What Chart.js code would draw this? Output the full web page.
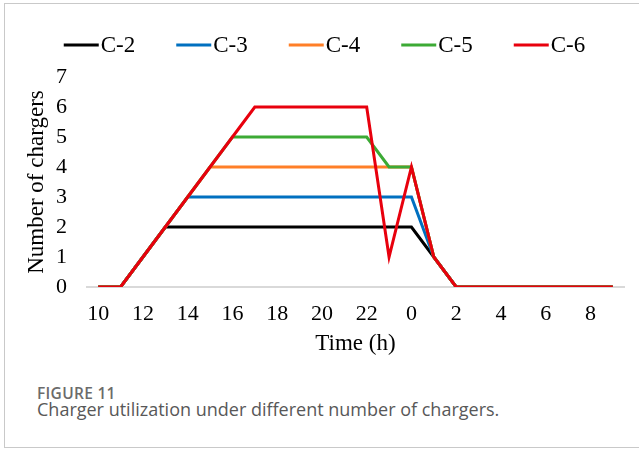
<!DOCTYPE html>
<html>
<head>
<meta charset="utf-8">
<script src="https://cdn.jsdelivr.net/npm/chart.js@4/dist/chart.umd.min.js"></script>
<style>
  html, body { margin: 0; padding: 0; background: #fff; width: 639px; height: 450px; overflow: hidden; }
  #card { position: absolute; left: 4px; top: 3px; width: 660px; height: 445px; border: 1px solid #c9c9c9; box-sizing: border-box; }
  #wrap { position: absolute; left: 0; top: 0; width: 639px; height: 362px; }
  #fig { position: absolute; left: 37px; top: 382px; font-family: "Open Sans", sans-serif; font-weight: 600; font-size: 15.5px; color: #6b6b6b; letter-spacing: 0.3px; }
  #cap { position: absolute; left: 37px; top: 397px; font-family: "Open Sans", sans-serif; font-size: 18px; color: #585858; }
</style>
</head>
<body>
<div id="card"></div>
<div id="wrap"><canvas id="c" width="639" height="362"></canvas></div>
<div id="fig">FIGURE 11</div>
<div id="cap">Charger utilization under different number of chargers.</div>
<script>
const hours = ['10','11','12','13','14','15','16','17','18','19','20','21','22','23','0','1','2','3','4','5','6','7','8','9'];
const c2 = [0,0,1,2,2,2,2,2,2,2,2,2,2,2,2,1,0,0,0,0,0,0,0,0];
const c3 = [0,0,1,2,3,3,3,3,3,3,3,3,3,3,3,1,0,0,0,0,0,0,0,0];
const c4 = [0,0,1,2,3,4,4,4,4,4,4,4,4,4,4,1,0,0,0,0,0,0,0,0];
const c5 = [0,0,1,2,3,4,5,5,5,5,5,5,5,4,4,1,0,0,0,0,0,0,0,0];
const c6 = [0,0,1,2,3,4,5,6,6,6,6,6,6,1,4,1,0,0,0,0,0,0,0,0];
const seriesNames = ['C-2','C-3','C-4','C-5','C-6'];
const seriesColors = ['#000000','#0070c0','#ff7f27','#3caa35','#e8000d'];
const yTicks = [0,1,2,3,4,5,6,7];

const serif = '"Liberation Serif", "Times New Roman", serif';

const legendPlugin = {
  id: 'customLegend',
  afterDraw(chart) {
    const ctx = chart.ctx;
    const ds = chart.data.datasets;
    const lineW = 35, gap = 2, spacing = 41;
    ctx.save();
    ctx.font = '23px ' + serif;
    const widths = ds.map(d => lineW + gap + ctx.measureText(d.label).width);
    const total = widths.reduce((a, b) => a + b, 0) + spacing * (ds.length - 1);
    let x = 324.5 - total / 2;
    const y = 45;
    ds.forEach((d, i) => {
      ctx.strokeStyle = d.borderColor;
      ctx.lineWidth = 3;
      ctx.beginPath();
      ctx.moveTo(x, y);
      ctx.lineTo(x + lineW, y);
      ctx.stroke();
      ctx.fillStyle = '#000';
      ctx.textAlign = 'left';
      ctx.textBaseline = 'middle';
      ctx.fillText(d.label, x + lineW + gap, y + 1);
      x += widths[i] + spacing;
    });
    ctx.restore();
  }
};

const series = [c2, c3, c4, c5, c6];
new Chart(document.getElementById('c'), {
  type: 'line',
  data: {
    labels: hours,
    datasets: series.map((s, i) => ({
      label: seriesNames[i],
      data: s,
      borderColor: seriesColors[i],
      backgroundColor: seriesColors[i],
      borderWidth: 3,
      pointRadius: 0,
      tension: 0,
      fill: false,
      order: 5 - i
    }))
  },
  options: {
    responsive: false,
    animation: false,
    layout: { padding: { top: 77, right: 15, left: 0, bottom: 0 } },
    plugins: { legend: { display: false }, tooltip: { enabled: false } },
    scales: {
      x: {
        offset: true,
        grid: { display: false, drawTicks: false },
        border: { display: true, color: '#d9d9d9', width: 2 },
        ticks: {
          autoSkip: false, maxRotation: 0, padding: 14, color: '#000',
          font: { family: serif, size: 22 },
          callback: (v, i) => (i % 2 === 0 ? hours[i] : '')
        },
        title: { display: true, text: 'Time (h)', color: '#000', font: { family: serif, size: 23 }, padding: { top: 0, bottom: 4 } },
        afterFit: s => { s.height = 75; }
      },
      y: {
        min: 0, max: 7,
        grid: { display: false, drawTicks: false },
        border: { display: false },
        afterBuildTicks: s => { s.ticks = yTicks.map(v => ({ value: v })); },
        ticks: { padding: 20, color: '#000', font: { family: serif, size: 22 } },
        title: { display: true, text: 'Number of chargers', color: '#000', font: { family: serif, size: 23 }, padding: { top: 23, bottom: 0 } },
        afterFit: s => { s.width = 87; }
      }
    }
  },
  plugins: [legendPlugin]
});
</script>
</body>
</html>
